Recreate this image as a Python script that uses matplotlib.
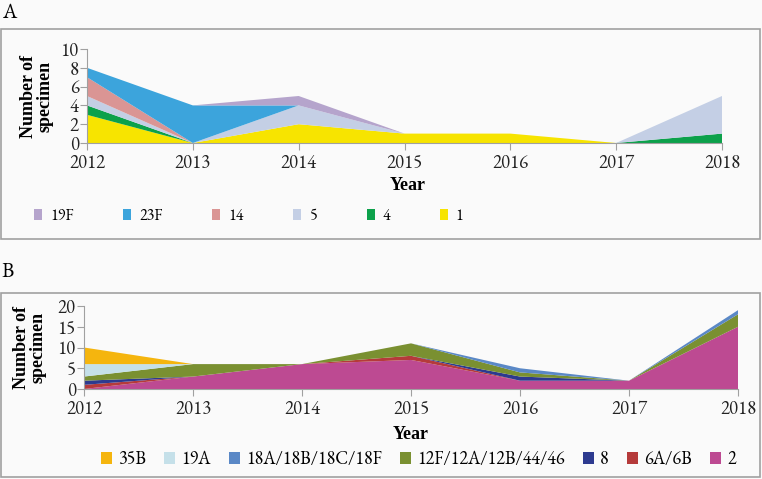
import matplotlib.pyplot as plt
from matplotlib.patches import Rectangle

years = [2012, 2013, 2014, 2015, 2016, 2017, 2018]

# panel A, stacked bottom -> top
a_labels = ["1", "4", "5", "14", "23F", "19F"]
a_1 = [3, 0, 2, 1, 1, 0, 0]
a_4 = [1, 0, 0, 0, 0, 0, 1]
a_5 = [1, 0, 2, 0, 0, 0, 4]
a_14 = [2, 0, 0, 0, 0, 0, 0]
a_23f = [1, 4, 0, 0, 0, 0, 0]
a_19f = [0, 0, 1, 0, 0, 0, 0]
a_colors = ["#f7e400", "#0ca14b", "#c4cfe5", "#da9594", "#3ca4dc", "#b5a4cc"]

# panel B, stacked bottom -> top
b_labels = ["2", "6A/6B", "8", "12F/12A/12B/44/46", "18A/18B/18C/18F", "19A", "35B"]
b_2 = [0, 3, 6, 7, 2, 2, 15]
b_6a6b = [1, 0, 0, 1, 0, 0, 0]
b_8 = [1, 0, 0, 0, 1, 0, 0]
b_12f = [1, 3, 0, 3, 1, 0, 3]
b_18a = [0, 0, 0, 0, 1, 0, 1]
b_19a = [3, 0, 0, 0, 0, 0, 0]
b_35b = [4, 0, 0, 0, 0, 0, 0]
b_colors = ["#bd4a92", "#b53a3a", "#2d3a8f", "#7a9031", "#5a88c6", "#c5e0e9", "#f5b50e"]

plt.rcParams["font.family"] = ["EB Garamond", "Liberation Serif", "DejaVu Serif"]
bold_font = ["Liberation Serif", "DejaVu Serif"]
grey = "#a0a0a0"
bg = "#fafafa"

fig = plt.figure(figsize=(7.62, 4.79), dpi=100, facecolor=bg)

# frames around the panels
fig.add_artist(Rectangle((1 / 762, 1 - 239 / 479), 759 / 762, 210 / 479,
                         transform=fig.transFigure, fill=False, ec=grey, lw=1.2))
fig.add_artist(Rectangle((1 / 762, 1 - 477 / 479), 759 / 762, 184 / 479,
                         transform=fig.transFigure, fill=False, ec=grey, lw=1.2))
fig.text(2 / 762, 1 - 13 / 479, "A", fontsize=15, va="center", ha="left")
fig.text(2 / 762, 1 - 272 / 479, "B", fontsize=15, va="center", ha="left")


def style(ax, ymax, ystep):
    ax.set_facecolor(bg)
    ax.set_xlim(2012, 2018)
    ax.set_ylim(0, ymax)
    ax.set_xticks(years)
    ax.set_yticks(range(0, ymax + 1, ystep))
    for s in ["top", "right"]:
        ax.spines[s].set_visible(False)
    for s in ["left", "bottom"]:
        ax.spines[s].set_color(grey)
    ax.tick_params(axis="both", colors=grey, labelcolor="#222222", labelsize=13.5,
                   length=5, direction="out")
    ax.tick_params(axis="x", pad=3)
    ax.tick_params(axis="y", pad=1)


# panel A
axA = fig.add_axes([87 / 762, 1 - 143 / 479, 635 / 762, 94 / 479])
axA.stackplot(years, a_1, a_4, a_5, a_14, a_23f, a_19f,
              colors=a_colors, labels=a_labels, lw=0)
style(axA, 10, 2)
axA.set_ylabel("Number of\nspecimen", fontsize=13, fontweight="bold", family=bold_font,
               labelpad=5, linespacing=0.95)
axA.set_xlabel("Year", fontsize=13, fontweight="bold", family=bold_font)
axA.xaxis.set_label_coords(0.505, -0.36)
h, l = axA.get_legend_handles_labels()
fig.legend(h[::-1], l[::-1], loc="center left", bbox_to_anchor=(20 / 762, 1 - 217 / 479),
           ncol=6, frameon=False, fontsize=11.5, handlelength=0.5, handleheight=0.7,
           handletextpad=0.5, columnspacing=3.1)

# panel B
axB = fig.add_axes([84 / 762, 1 - 389 / 479, 654 / 762, 83 / 479])
axB.stackplot(years, b_2, b_6a6b, b_8, b_12f, b_18a, b_19a, b_35b,
              colors=b_colors, labels=b_labels, lw=0)
style(axB, 20, 5)
axB.set_ylabel("Number of\nspecimen", fontsize=13, fontweight="bold", family=bold_font,
               labelpad=8, linespacing=0.95)
axB.set_xlabel("Year", fontsize=13, fontweight="bold", family=bold_font)
axB.xaxis.set_label_coords(0.5, -0.45)
h, l = axB.get_legend_handles_labels()
fig.legend(h[::-1], l[::-1], loc="center left", bbox_to_anchor=(85 / 762, 1 - 460 / 479),
           ncol=7, frameon=False, fontsize=13, handlelength=0.6, handleheight=0.7,
           handletextpad=0.35, columnspacing=1.0)

fig.savefig("out.png", dpi=100, facecolor=bg)
